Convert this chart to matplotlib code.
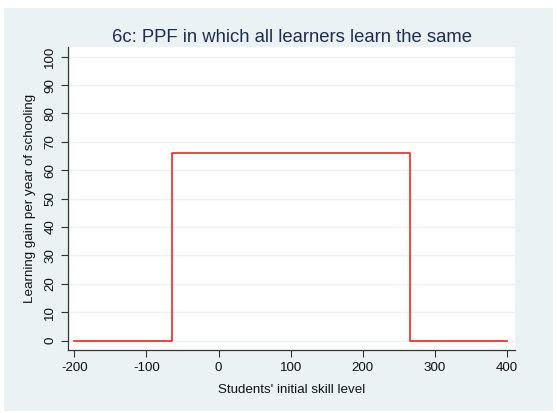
import matplotlib
matplotlib.use("Agg")
import matplotlib.pyplot as plt
from matplotlib.patches import Rectangle

# step function: learning gain vs initial skill level
skill = [-200, -65, -65, 265, 265, 400]
gain = [0, 0, 66, 66, 0, 0]

xticks = [-200, -100, 0, 100, 200, 300, 400]
yticks = list(range(0, 101, 10))

plt.rcParams['font.family'] = ['Liberation Sans', 'DejaVu Sans']

fig = plt.figure(figsize=(5.57, 4.13), dpi=100)
fig.patch.set_facecolor("white")
fig.patches.append(Rectangle((4 / 557, 2 / 413), 549 / 557, 403 / 413,
                             transform=fig.transFigure, facecolor="#EAF2F3",
                             edgecolor="none", zorder=-10))

ax = fig.add_axes([68 / 557, 63 / 413, 447 / 557, 302.7 / 413])
ax.set_facecolor("white")

for y in yticks:
    ax.axhline(y, color="#EAF2F3", lw=1.0, zorder=1)

ax.plot(skill, gain, color="#FF2020", lw=1.2, zorder=3)

ax.set_xlim(-208.7, 411)
ax.set_ylim(-3.3, 103.3)
ax.set_xticks(xticks)
ax.set_yticks(yticks)
ax.set_xticklabels([str(v) for v in xticks], fontsize=9.6)
ax.set_yticklabels([str(v) for v in yticks], fontsize=9.6, rotation=90, va="center")
ax.tick_params(direction="out", length=5, width=0.8, color="#333333", labelcolor="#111111")

for s in ["top", "right"]:
    ax.spines[s].set_visible(False)
for s in ["left", "bottom"]:
    ax.spines[s].set_color("#333333")
    ax.spines[s].set_linewidth(0.9)

ax.set_xlabel("Students' initial skill level", fontsize=9.6, color="#111111", labelpad=7)
ax.set_ylabel("Learning gain per year of schooling", fontsize=9.6, color="#111111", labelpad=6)
ax.set_title("6c: PPF in which all learners learn the same", fontsize=13.3,
             color="#1E2D53", pad=4)

fig.savefig("out.png", dpi=100, facecolor=fig.get_facecolor())
